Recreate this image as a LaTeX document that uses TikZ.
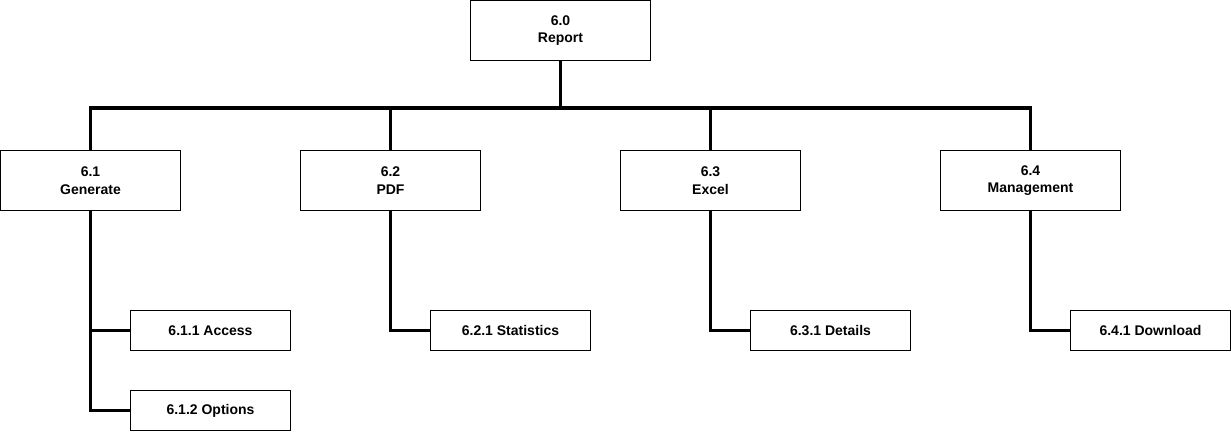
\documentclass[tikz,border=0pt]{standalone}
\usepackage{fontspec}
\setmainfont{Liberation Sans}
\begin{document}
\begin{tikzpicture}[x=1pt,y=-1pt,
  box/.style={draw=black,line width=1pt,fill=white,inner sep=0pt,align=center,
    font=\bfseries\fontsize{14}{17.5}\selectfont},
  topbox/.style={box,minimum width=180pt,minimum height=60pt},
  subbox/.style={box,minimum width=160pt,minimum height=40pt},
  conn/.style={draw=black,line width=3.5pt,line join=miter}]
\useasboundingbox (0,0) rectangle (1231,432);
\node[topbox] (r) at (560.5,30.5) {6.0\\Report};
\node[topbox] (g) at (90.5,180.5) {6.1\\Generate};
\node[topbox] (p) at (390.5,180.5) {6.2\\PDF};
\node[topbox] (e) at (710.5,180.5) {6.3\\Excel};
\node[topbox] (m) at (1030.5,180.5) {6.4\\Management};
\node[subbox] (g1) at (210.5,330.5) {6.1.1 Access};
\node[subbox] (g2) at (210.5,410.5) {6.1.2 Options};
\node[subbox] (p1) at (510.5,330.5) {6.2.1 Statistics};
\node[subbox] (e1) at (830.5,330.5) {6.3.1 Details};
\node[subbox] (m1) at (1150.5,330.5) {6.4.1 Download};
\coordinate (bus) at (0,108);
\draw[conn] (r.south) -- (r.south |- bus);
\draw[conn] (g.north) -- (g.north |- bus) -- (m.north |- bus) -- (m.north);
\draw[conn] (p.north) -- (p.north |- bus);
\draw[conn] (e.north) -- (e.north |- bus);
\draw[conn] (g.south) |- (g2.west);
\draw[conn] (g.south |- g1.west) -- (g1.west);
\draw[conn] (p.south) |- (p1.west);
\draw[conn] (e.south) |- (e1.west);
\draw[conn] (m.south) |- (m1.west);
\end{tikzpicture}
\end{document}
